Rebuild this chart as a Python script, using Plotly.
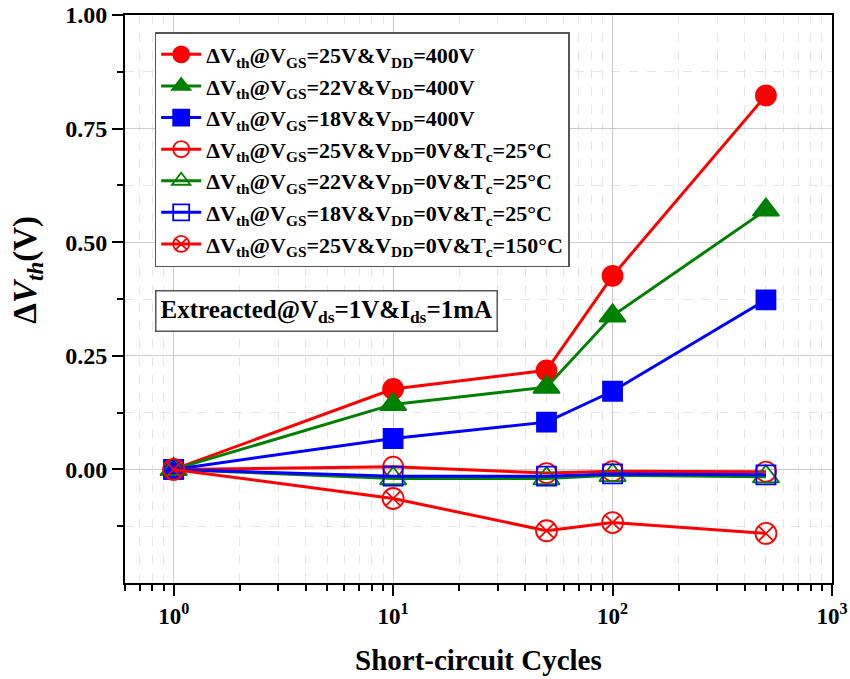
import plotly.graph_objects as go

cycles = [1, 10, 50, 100, 500]

dvth_25_400 = [0, 0.177, 0.218, 0.426, 0.823]
dvth_22_400 = [0, 0.143, 0.181, 0.338, 0.571]
dvth_18_400 = [0, 0.068, 0.104, 0.172, 0.373]
dvth_25_0_25c = [0, 0.006, -0.008, -0.004, -0.005]
dvth_22_0_25c = [0, -0.02, -0.02, -0.013, -0.016]
dvth_18_0_25c = [0, -0.015, -0.015, -0.01, -0.012]
dvth_25_0_150c = [0, -0.064, -0.135, -0.117, -0.141]

names = [
    "ΔV<sub>th</sub>@V<sub>GS</sub>=25V&V<sub>DD</sub>=400V",
    "ΔV<sub>th</sub>@V<sub>GS</sub>=22V&V<sub>DD</sub>=400V",
    "ΔV<sub>th</sub>@V<sub>GS</sub>=18V&V<sub>DD</sub>=400V",
    "ΔV<sub>th</sub>@V<sub>GS</sub>=25V&V<sub>DD</sub>=0V&T<sub>c</sub>=25°C",
    "ΔV<sub>th</sub>@V<sub>GS</sub>=22V&V<sub>DD</sub>=0V&T<sub>c</sub>=25°C",
    "ΔV<sub>th</sub>@V<sub>GS</sub>=18V&V<sub>DD</sub>=0V&T<sub>c</sub>=25°C",
    "ΔV<sub>th</sub>@V<sub>GS</sub>=25V&V<sub>DD</sub>=0V&T<sub>c</sub>=150°C",
]
series = [dvth_25_400, dvth_22_400, dvth_18_400, dvth_25_0_25c,
          dvth_22_0_25c, dvth_18_0_25c, dvth_25_0_150c]
colors = ["#FF0000", "#008000", "#0000FF", "#FF0000", "#008000", "#0000FF", "#FF0000"]
symbols = ["circle", "triangle-up", "square", "circle-open", "triangle-up-open",
           "square-open", "circle-x-open"]
sizes = [20, 23, 19, 20, 23, 19, 21]

x_tickvals = [1, 10, 100, 1000]
x_ticktext = ["10<sup>0</sup>", "10<sup>1</sup>", "10<sup>2</sup>", "10<sup>3</sup>"]
y_tickvals = [0.0, 0.25, 0.5, 0.75, 1.0]

FONT = "Liberation Serif"

fig = go.Figure()
for name, ys, c, s, sz in zip(names, series, colors, symbols, sizes):
    fig.add_trace(go.Scatter(
        x=cycles, y=ys, name=name, mode="lines+markers",
        line=dict(color=c, width=3),
        marker=dict(symbol=s, size=sz, color=c, line=dict(color=c, width=1.8)),
    ))

fig.update_layout(
    width=850, height=679,
    margin=dict(l=125, r=18, t=15, b=96),
    paper_bgcolor="white", plot_bgcolor="white",
    font=dict(family=FONT, size=20, color="black", weight="bold"),
    showlegend=True,
    legend=dict(
        x=0.042, y=0.97, xanchor="left", yanchor="top",
        bgcolor="white", bordercolor="#555555", borderwidth=1.5,
        font=dict(family=FONT, size=22, color="black", weight="bold"),
        itemsizing="trace", itemwidth=40,
        tracegroupgap=0,
    ),
    annotations=[
        dict(
            text="Extreacted@V<sub>ds</sub>=1V&I<sub>ds</sub>=1mA",
            xref="paper", yref="paper", x=0.042, y=0.516,
            xanchor="left", yanchor="top", showarrow=False,
            font=dict(family=FONT, size=25, color="black", weight="bold"),
            bordercolor="#555555", borderwidth=1.5, borderpad=4, bgcolor="white",
        ),
        dict(
            text="Short-circuit Cycles",
            xref="paper", yref="paper", x=0.5, y=-0.136,
            xanchor="center", yanchor="middle", showarrow=False,
            font=dict(family=FONT, size=29, color="black", weight="bold"),
        ),
        dict(
            text="Δ<i>V</i><sub><i>th</i></sub>(V)",
            xref="paper", yref="paper", x=-0.139, y=0.551,
            xanchor="center", yanchor="middle", showarrow=False, textangle=-90,
            font=dict(family=FONT, size=33, color="black", weight="bold"),
        ),
    ],
)

fig.update_xaxes(
    type="log", range=[-0.2218, 3.0], automargin=False,
    ticklabeloverflow="allow",
    tickmode="array", tickvals=x_tickvals, ticktext=x_ticktext,
    ticks="outside", ticklen=11, tickwidth=2, tickcolor="black",
    showline=True, linecolor="black", linewidth=2, mirror=True,
    showgrid=True, gridcolor="#cccccc", gridwidth=1,
    minor=dict(ticks="outside", ticklen=6, tickwidth=2, tickcolor="black",
               dtick="D1", showgrid=True, gridcolor="#e6e6e6", griddash="dash"),
    zeroline=False,
    tickfont=dict(family=FONT, size=23, weight="bold"),
)
fig.update_yaxes(
    range=[-0.25, 1.0], automargin=False,
    ticklabeloverflow="allow",
    tickmode="array", tickvals=y_tickvals, tickformat=".2f",
    ticks="outside", ticklen=11, tickwidth=2, tickcolor="black",
    showline=True, linecolor="black", linewidth=2, mirror=True,
    showgrid=True, gridcolor="#cccccc", gridwidth=1,
    minor=dict(ticks="outside", ticklen=6, tickwidth=2, tickcolor="black",
               tickmode="linear", tick0=0.125, dtick=0.25,
               showgrid=True, gridcolor="#e6e6e6", griddash="dash"),
    zeroline=False,
    tickfont=dict(family=FONT, size=24, weight="bold"),
)

fig.write_html(
    "out.html",
    config={"displayModeBar": False},
    post_script="document.body.style.margin='0';document.body.style.overflow='hidden';",
)
